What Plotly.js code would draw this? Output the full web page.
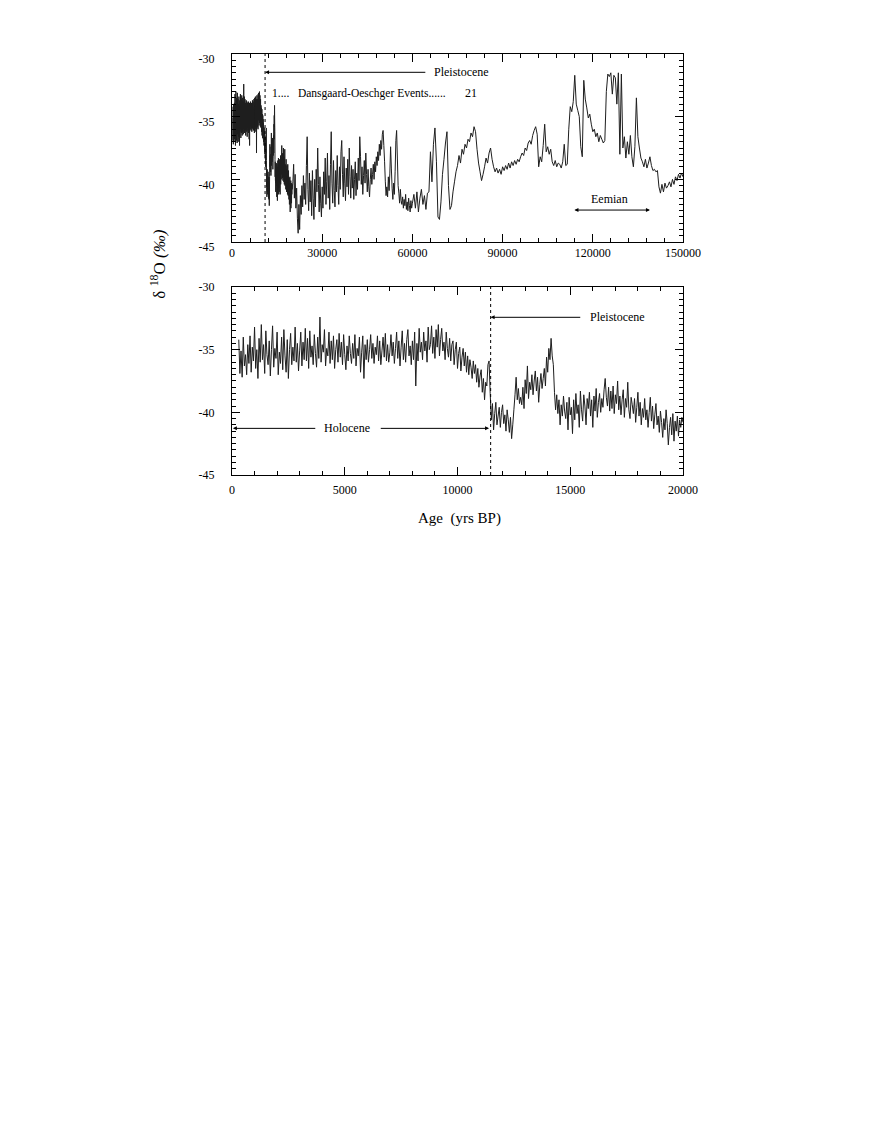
<!DOCTYPE html>
<html>
<head>
<meta charset="utf-8">
<script src="https://cdn.plot.ly/plotly-3.0.1.min.js"></script>
<style>html,body{margin:0;padding:0;background:#fff;}#chart{width:872px;height:1128px;}</style>
</head>
<body>
<div id="chart"></div>
<script>
// ---------- Data: high-resolution record 300 - 20000 yrs BP (bottom panel) ----------
const ageRecent = [
300,350,400,450,500,550,600,650,700,750,
800,850,900,950,1000,1050,1100,1150,1200,1250,
1300,1350,1400,1450,1500,1550,1600,1650,1700,1750,
1800,1850,1900,1950,2000,2050,2100,2150,2200,2250,
2300,2350,2400,2450,2500,2550,2600,2650,2700,2750,
2800,2850,2900,2950,3000,3050,3100,3150,3200,3250,
3300,3350,3400,3450,3500,3550,3600,3650,3700,3750,
3800,3850,3900,3950,4000,4050,4100,4150,4200,4250,
4300,4350,4400,4450,4500,4550,4600,4650,4700,4750,
4800,4850,4900,4950,5000,5050,5100,5150,5200,5250,
5300,5350,5400,5450,5500,5550,5600,5650,5700,5750,
5800,5850,5900,5950,6000,6050,6100,6150,6200,6250,
6300,6350,6400,6450,6500,6550,6600,6650,6700,6750,
6800,6850,6900,6950,7000,7050,7100,7150,7200,7250,
7300,7350,7400,7450,7500,7550,7600,7650,7700,7750,
7800,7850,7900,7950,8000,8050,8100,8150,8200,8250,
8300,8350,8400,8450,8500,8550,8600,8650,8700,8750,
8800,8850,8900,8950,9000,9050,9100,9150,9200,9250,
9300,9350,9400,9450,9500,9550,9600,9650,9700,9750,
9800,9850,9900,9950,10000,10050,10100,10150,10200,10250,
10300,10350,10400,10450,10500,10550,10600,10650,10700,10750,
10800,10850,10900,10950,11000,11050,11100,11150,11200,11250,
11300,11350,11400,11450,11500,11550,11600,11650,11700,11750,
11800,11850,11900,11950,12000,12050,12100,12150,12200,12250,
12300,12350,12400,12450,12500,12550,12600,12650,12700,12750,
12800,12850,12900,12950,13000,13050,13100,13150,13200,13250,
13300,13350,13400,13450,13500,13550,13600,13650,13700,13750,
13800,13850,13900,13950,14000,14050,14100,14150,14200,14250,
14300,14350,14400,14450,14500,14550,14600,14650,14700,14750,
14800,14850,14900,14950,15000,15050,15100,15150,15200,15250,
15300,15350,15400,15450,15500,15550,15600,15650,15700,15750,
15800,15850,15900,15950,16000,16050,16100,16150,16200,16250,
16300,16350,16400,16450,16500,16550,16600,16650,16700,16750,
16800,16850,16900,16950,17000,17050,17100,17150,17200,17250,
17300,17350,17400,17450,17500,17550,17600,17650,17700,17750,
17800,17850,17900,17950,18000,18050,18100,18150,18200,18250,
18300,18350,18400,18450,18500,18550,18600,18650,18700,18750,
18800,18850,18900,18950,19000,19050,19100,19150,19200,19250,
19300,19350,19400,19450,19500,19550,19600,19650,19700,19750,
19800,19850,19900,19950,20000];

const d18ORecent = [
-34.2,-36.9,-35.1,-37.2,-34.0,-36.3,-35.4,-37.0,-34.6,-36.1,
-33.9,-36.8,-34.8,-35.9,-33.2,-36.5,-35.0,-37.3,-34.1,-36.0,
-33.0,-35.8,-34.6,-36.9,-33.5,-35.4,-36.2,-34.3,-37.1,-35.0,
-33.1,-36.4,-34.9,-35.7,-33.6,-37.0,-35.2,-36.1,-34.0,-36.6,
-33.4,-35.5,-36.8,-34.2,-37.3,-35.0,-33.7,-36.2,-34.8,-35.9,
-33.2,-36.0,-34.5,-36.7,-35.1,-33.6,-36.3,-34.4,-35.8,-33.3,
-35.9,-34.1,-36.5,-33.5,-35.6,-34.7,-36.2,-33.8,-35.3,-36.4,
-34.0,-35.7,-32.4,-36.0,-34.6,-35.2,-33.4,-36.3,-34.9,-35.5,
-33.6,-36.1,-34.3,-35.8,-33.9,-36.5,-35.0,-34.2,-36.0,-33.7,
-35.6,-34.4,-36.2,-33.8,-35.4,-36.6,-34.7,-35.9,-33.9,-35.3,
-36.1,-34.5,-35.7,-33.8,-36.3,-34.9,-35.5,-34.0,-36.8,-35.2,
-33.9,-37.3,-34.6,-35.8,-34.2,-36.0,-35.0,-33.8,-35.7,-34.5,
-36.1,-34.8,-35.4,-33.9,-35.9,-34.3,-36.2,-35.1,-34.0,-35.6,
-33.7,-35.9,-34.6,-36.0,-35.2,-33.8,-35.5,-34.4,-36.1,-34.9,
-33.6,-35.7,-34.3,-36.3,-34.8,-33.5,-35.8,-34.5,-36.0,-34.2,
-33.4,-35.5,-34.7,-36.2,-34.3,-35.8,-33.6,-37.9,-34.5,-35.9,
-33.3,-35.2,-34.4,-35.8,-33.6,-35.1,-34.3,-36.0,-33.2,-35.0,
-34.6,-33.1,-35.3,-34.0,-35.7,-33.4,-34.8,-33.0,-35.5,-34.2,
-33.3,-35.1,-34.4,-35.8,-33.6,-34.9,-35.6,-34.1,-35.9,-34.6,
-34.3,-36.2,-35.0,-34.4,-36.5,-35.3,-34.8,-36.7,-35.6,-34.9,
-36.3,-35.2,-36.8,-35.5,-37.0,-35.8,-36.4,-37.3,-35.9,-36.9,
-36.2,-37.6,-36.5,-38.0,-37.1,-36.6,-38.4,-37.3,-39.0,-37.6,
-37.9,-36.2,-35.9,-38.5,-40.6,-39.3,-41.4,-40.1,-39.2,-41.0,
-40.3,-39.6,-41.2,-40.0,-39.4,-40.9,-40.2,-41.5,-39.8,-40.6,
-41.6,-40.4,-42.1,-41.0,-39.8,-38.6,-37.2,-39.0,-38.1,-39.3,
-38.8,-39.4,-38.0,-39.7,-37.4,-38.5,-36.3,-38.9,-37.6,-38.2,
-37.0,-38.6,-37.5,-36.7,-38.3,-37.2,-39.2,-37.8,-36.9,-38.1,
-37.3,-36.5,-37.9,-35.6,-36.8,-34.9,-35.8,-34.1,-35.5,-36.2,
-38.4,-39.8,-38.6,-40.1,-39.0,-41.0,-39.4,-40.3,-38.7,-39.9,
-40.5,-39.2,-41.4,-38.8,-40.2,-39.6,-41.7,-39.0,-40.6,-38.5,
-40.1,-39.4,-41.2,-38.3,-39.8,-40.7,-38.6,-39.5,-41.0,-38.9,
-39.7,-38.4,-40.3,-39.0,-41.2,-38.7,-39.9,-38.1,-40.4,-39.2,
-38.5,-40.0,-38.9,-39.6,-38.2,-37.3,-38.8,-39.5,-38.0,-39.9,
-38.3,-39.7,-37.9,-40.1,-38.6,-39.3,-37.5,-39.8,-38.7,-40.2,
-39.0,-38.2,-40.4,-38.9,-39.6,-37.6,-39.8,-40.5,-38.8,-39.4,
-40.1,-38.9,-40.8,-39.6,-38.4,-40.3,-39.2,-41.0,-39.7,-40.4,
-38.9,-40.6,-39.8,-41.2,-40.0,-38.8,-40.7,-39.5,-41.3,-40.2,
-39.3,-41.0,-40.3,-41.6,-39.9,-40.8,-42.0,-40.5,-41.4,-39.8,
-40.9,-42.6,-41.2,-40.4,-41.8,-40.1,-42.3,-40.7,-41.5,-40.3,
-41.9,-40.6,-41.2,-40.4,-40.8];

// ---------- Data: glacial record 20250 - 150000 yrs BP (top panel continuation) ----------
const ageGlacial = [
20250,20500,20750,21000,21250,21500,21750,22000,
22250,22500,22750,23000,23250,23500,23750,24000,
24250,24500,24750,25000,25250,25500,25750,26000,
26250,26500,26750,27000,27250,27500,27750,28000,
28250,28500,28750,29000,29250,29500,29750,30000,
30250,30500,30750,31000,31250,31500,31750,32000,
32250,32500,32750,33000,33250,33500,33750,34000,
34250,34500,34750,35000,35250,35500,35750,36000,
36250,36500,36750,37000,37250,37500,37750,38000,
38250,38500,38750,39000,39250,39500,39750,40000,
40250,40500,40750,41000,41250,41500,41750,42000,
42250,42500,42750,43000,43250,43500,43750,44000,
44250,44500,44750,45000,45250,45500,45750,46000,
46250,46500,46750,47000,47250,47500,47750,48000,
48250,48500,48750,49000,49250,49500,49750,50000,
50250,50500,50750,51000,51250,51500,51750,52000,
52250,52500,52750,53000,53250,53500,53750,54000,
54250,54500,54750,55000,55250,55500,55750,56000,
56250,56500,56750,57000,57250,57500,57750,58000,
58250,58500,58750,59000,59250,59500,59750,60000,
60500,61000,61500,62000,62500,63000,63500,64000,64500,65000,
65500,66000,66500,67000,67500,68000,68500,69000,69500,70000,
70500,71000,71500,72000,72500,73000,73500,74000,74500,75000,
75500,76000,76500,77000,77500,78000,78500,79000,79500,80000,
80500,81000,81500,82000,82500,83000,83500,84000,84500,85000,
85500,86000,86500,87000,87500,88000,88500,89000,89500,90000,
90500,91000,91500,92000,92500,93000,93500,94000,94500,95000,
95500,96000,96500,97000,97500,98000,98500,99000,99500,100000,
100500,101000,101500,102000,102500,103000,103500,104000,104500,105000,
105500,106000,106500,107000,107500,108000,108500,109000,109500,110000,
110500,111000,111500,112000,112500,113000,113500,114000,114500,115000,
115500,116000,116500,117000,117500,118000,118500,119000,119500,120000,
120500,121000,121500,122000,122500,123000,123500,124000,124500,125000,
125500,126000,126500,127000,127500,128000,128500,129000,129500,130000,
130500,131000,131500,132000,132500,133000,133500,134000,134500,135000,
135500,136000,136500,137000,137500,138000,138500,139000,139500,140000,
140500,141000,141500,142000,142500,143000,143500,144000,144500,145000,
145500,146000,146500,147000,147500,148000,148500,149000,149500,150000];

const d18OGlacial = [
-40.2,-38.8,-41.5,-39.6,-42.3,-40.7,-43.1,-44.3,
-42.0,-44.0,-41.3,-42.8,-40.5,-42.2,-39.7,-41.6,
-40.3,-42.0,-38.9,-36.6,-40.8,-42.5,-39.5,-41.8,
-40.1,-42.9,-39.3,-41.5,-43.2,-40.0,-42.2,-39.2,
-41.0,-37.5,-40.4,-42.6,-39.8,-41.9,-43.0,-40.6,
-42.3,-39.4,-41.2,-38.3,-42.0,-40.2,-37.9,-41.5,
-39.7,-42.4,-38.8,-36.2,-40.3,-41.9,-38.5,-40.9,
-42.2,-39.3,-41.0,-38.1,-40.5,-42.0,-39.0,-40.8,
-37.8,-36.9,-39.6,-41.4,-38.2,-40.3,-41.7,-39.1,
-40.6,-38.4,-41.2,-37.5,-39.8,-41.5,-38.9,-40.7,
-39.2,-41.6,-40.0,-38.6,-41.3,-39.5,-40.8,-38.3,
-40.1,-36.6,-38.2,-40.4,-39.0,-41.2,-39.7,-38.5,
-40.3,-37.9,-39.6,-41.0,-39.2,-40.6,-41.4,-40.0,
-39.1,-40.4,-39.6,-38.8,-40.0,-38.6,-39.4,-38.2,
-38.9,-37.8,-38.5,-37.2,-38.1,-36.9,-37.6,-36.4,
-36.1,-37.3,-38.6,-40.2,-41.3,-40.6,-41.4,-39.8,
-40.9,-39.5,-37.4,-39.1,-40.7,-41.6,-40.3,-41.2,
-39.4,-36.9,-36.1,-38.3,-40.5,-41.1,-41.9,-40.8,
-41.7,-42.0,-41.4,-42.3,-41.6,-42.1,-41.2,-42.4,
-41.8,-42.5,-41.5,-42.1,-42.6,-41.7,-42.3,-41.9,
-41.2,-42.3,-41.0,-42.6,-41.5,-40.8,-42.0,-41.3,-42.4,-41.1,
-41.0,-37.8,-40.2,-37.2,-35.9,-38.6,-43.0,-43.2,-41.8,-39.6,
-38.4,-37.1,-36.2,-40.5,-42.4,-42.1,-41.0,-40.2,-39.4,-38.9,
-38.1,-38.7,-37.6,-38.0,-37.2,-37.5,-36.8,-37.0,-36.3,-36.6,
-35.8,-36.2,-37.6,-38.7,-39.4,-40.1,-39.6,-39.0,-38.3,-38.7,
-37.9,-37.5,-38.4,-39.0,-39.4,-39.1,-39.5,-39.2,-39.6,-39.0,
-39.3,-38.9,-39.2,-38.7,-39.1,-38.6,-38.9,-38.5,-38.8,-38.4,
-38.6,-38.2,-37.9,-38.1,-37.5,-37.7,-37.1,-36.9,-37.2,-36.5,
-36.1,-35.8,-36.4,-39.0,-38.2,-38.6,-37.3,-35.6,-37.8,-37.4,
-38.0,-37.6,-38.6,-38.9,-38.5,-39.0,-38.7,-38.8,-39.1,-38.6,
-37.2,-38.9,-38.8,-36.0,-34.2,-34.6,-33.8,-31.7,-34.0,-34.5,
-35.0,-37.4,-38.2,-32.1,-33.6,-34.3,-35.1,-34.8,-35.6,-36.2,
-36.0,-36.6,-36.3,-37.0,-36.5,-36.8,-37.1,-36.9,-33.0,-31.6,
-31.8,-31.5,-33.2,-31.7,-31.9,-34.0,-31.5,-38.0,-31.6,-37.5,
-36.6,-38.3,-37.0,-38.0,-36.5,-38.2,-39.0,-37.4,-33.5,-36.6,
-37.5,-38.3,-38.6,-39.0,-38.4,-39.1,-38.7,-38.2,-38.9,-39.3,
-39.2,-39.4,-39.3,-40.6,-41.1,-40.4,-41.0,-40.3,-40.7,-40.5,
-40.2,-40.6,-40.0,-40.4,-39.8,-40.1,-39.6,-39.9,-39.5,-39.8];

// ---------- Axis ticks ----------
const topAgeTicks = [0, 30000, 60000, 90000, 120000, 150000];
const topAgeLabels = ['0', '30000', '60000', '90000', '120000', '150000'];
const bottomAgeTicks = [0, 5000, 10000, 15000, 20000];
const bottomAgeLabels = ['0', '5000', '10000', '15000', '20000'];
const d18OTicks = [-45, -40, -35, -30];
const d18OLabels = ['-45', '-40', '-35', '-30'];

const FONT = 'Liberation Serif, Times New Roman, serif';
const INK = '#000000';

const traces = [
  {
    x: ageRecent.concat(ageGlacial),
    y: d18ORecent.concat(d18OGlacial),
    xaxis: 'x2', yaxis: 'y2',
    type: 'scatter', mode: 'lines',
    line: {color: '#1e1e1e', width: 1, simplify: false},
    hoverinfo: 'skip'
  },
  {
    x: ageRecent,
    y: d18ORecent,
    xaxis: 'x', yaxis: 'y',
    type: 'scatter', mode: 'lines',
    line: {color: '#1e1e1e', width: 1, simplify: false},
    hoverinfo: 'skip'
  }
];

function xAxis(range, ticks, labels, minorStep, anchor, standoff) {
  return {
    range: range, anchor: anchor, domain: [0, 1],
    tickmode: 'array', tickvals: ticks, ticktext: labels,
    ticks: 'inside', ticklen: 8, tickwidth: 1, tickcolor: INK,
    minor: {ticks: 'inside', ticklen: 4, tickwidth: 1, tickcolor: INK, dtick: minorStep, tick0: 0, showgrid: false},
    showline: true, linecolor: INK, linewidth: 1, mirror: 'ticks',
    showgrid: false, zeroline: false,
    tickfont: {family: FONT, size: 12, color: INK},
    ticklabelstandoff: standoff,
    fixedrange: true
  };
}
function yAxis(domain, anchor, shift) {
  return {
    range: [-45, -30], anchor: anchor, domain: domain,
    tickmode: 'array', tickvals: d18OTicks, ticktext: d18OLabels,
    ticks: 'inside', ticklen: 8, tickwidth: 1, tickcolor: INK,
    minor: {ticks: 'inside', ticklen: 4, tickwidth: 1, tickcolor: INK, dtick: 0.5, tick0: 0, showgrid: false},
    showline: true, linecolor: INK, linewidth: 1, mirror: 'ticks',
    showgrid: false, zeroline: false,
    tickfont: {family: FONT, size: 12, color: INK},
    ticklabelstandoff: 14,
    ticklabelshift: shift,
    fixedrange: true
  };
}

const annFont = {family: FONT, size: 12, color: INK};
const arrowBase = {text: '', showarrow: true, arrowhead: 2, arrowsize: 0.8, arrowwidth: 1, arrowcolor: INK, standoff: 0, startstandoff: 0};
const annotations = [
  // top panel
  Object.assign({xref: 'x2', yref: 'y2', x: 11000, y: -31.46, ax: 64800, ay: -31.46, axref: 'x2', ayref: 'y2'}, arrowBase),
  {xref: 'x2', yref: 'y2', x: 66400, y: -31.46, text: 'Pleistocene', showarrow: false, xanchor: 'left', yanchor: 'middle', font: annFont},
  {xref: 'x2', yref: 'y2', x: 12800, y: -33.14, text: '1....\u00a0\u00a0\u00a0Dansgaard-Oeschger Events......', showarrow: false, xanchor: 'left', yanchor: 'middle', font: {family: FONT, size: 11.5, color: INK}},
  {xref: 'x2', yref: 'y2', x: 79600, y: -33.14, text: '21', showarrow: false, xanchor: 'center', yanchor: 'middle', font: annFont},
  {xref: 'x2', yref: 'y2', x: 125500, y: -41.57, text: 'Eemian', showarrow: false, xanchor: 'center', yanchor: 'middle', font: annFont},
  Object.assign({xref: 'x2', yref: 'y2', x: 139000, y: -42.45, ax: 113400, ay: -42.45, axref: 'x2', ayref: 'y2', arrowside: 'end+start'}, arrowBase),
  // bottom panel
  Object.assign({xref: 'x', yref: 'y', x: 11470, y: -32.42, ax: 15510, ay: -32.42, axref: 'x', ayref: 'y'}, arrowBase),
  {xref: 'x', yref: 'y', x: 15800, y: -32.42, text: 'Pleistocene', showarrow: false, xanchor: 'left', yanchor: 'middle', font: annFont},
  {xref: 'x', yref: 'y', x: 5120, y: -41.28, text: 'Holocene', showarrow: false, xanchor: 'center', yanchor: 'middle', font: annFont},
  Object.assign({xref: 'x', yref: 'y', x: 40, y: -41.28, ax: 3760, ay: -41.28, axref: 'x', ayref: 'y'}, arrowBase),
  Object.assign({xref: 'x', yref: 'y', x: 11400, y: -41.28, ax: 6530, ay: -41.28, axref: 'x', ayref: 'y'}, arrowBase),
  // axis titles
  {xref: 'paper', yref: 'paper', x: 0.5044, y: -0.1045, text: 'Age\u00a0\u00a0(yrs BP)', showarrow: false, xanchor: 'center', yanchor: 'middle', font: {family: FONT, size: 15, color: INK}},
  {xref: 'paper', yref: 'paper', x: -0.166, y: 0.50, textangle: -90,
   text: 'δ <sup style="font-size:15px">18</sup>O <i>(‰)</i>', showarrow: false, xanchor: 'center', yanchor: 'middle', font: {family: FONT, size: 17, color: INK}}
];

const shapes = [
  {type: 'line', xref: 'x2', yref: 'y2 domain', x0: 11000, x1: 11000, y0: 0, y1: 1, line: {color: INK, width: 1, dash: 'dot'}},
  {type: 'line', xref: 'x', yref: 'y domain', x0: 11470, x1: 11470, y0: 0, y1: 1, line: {color: INK, width: 1, dash: 'dot'}}
];

const layout = {
  width: 872, height: 1128,
  margin: {l: 232, r: 189, t: 54, b: 653, pad: 0},
  paper_bgcolor: '#fff', plot_bgcolor: '#fff',
  showlegend: false,
  xaxis: xAxis([0, 20000], bottomAgeTicks, bottomAgeLabels, 1000, 'y', 4),
  yaxis: yAxis([0, 0.4466], 'x', 0),
  xaxis2: xAxis([0, 150000], topAgeTicks, topAgeLabels, 6000, 'y2', 0),
  yaxis2: yAxis([0.5534, 1], 'x2', 5),
  annotations: annotations,
  shapes: shapes
};

Plotly.newPlot('chart', traces, layout, {displayModeBar: false, staticPlot: true});
</script>
</body>
</html>
